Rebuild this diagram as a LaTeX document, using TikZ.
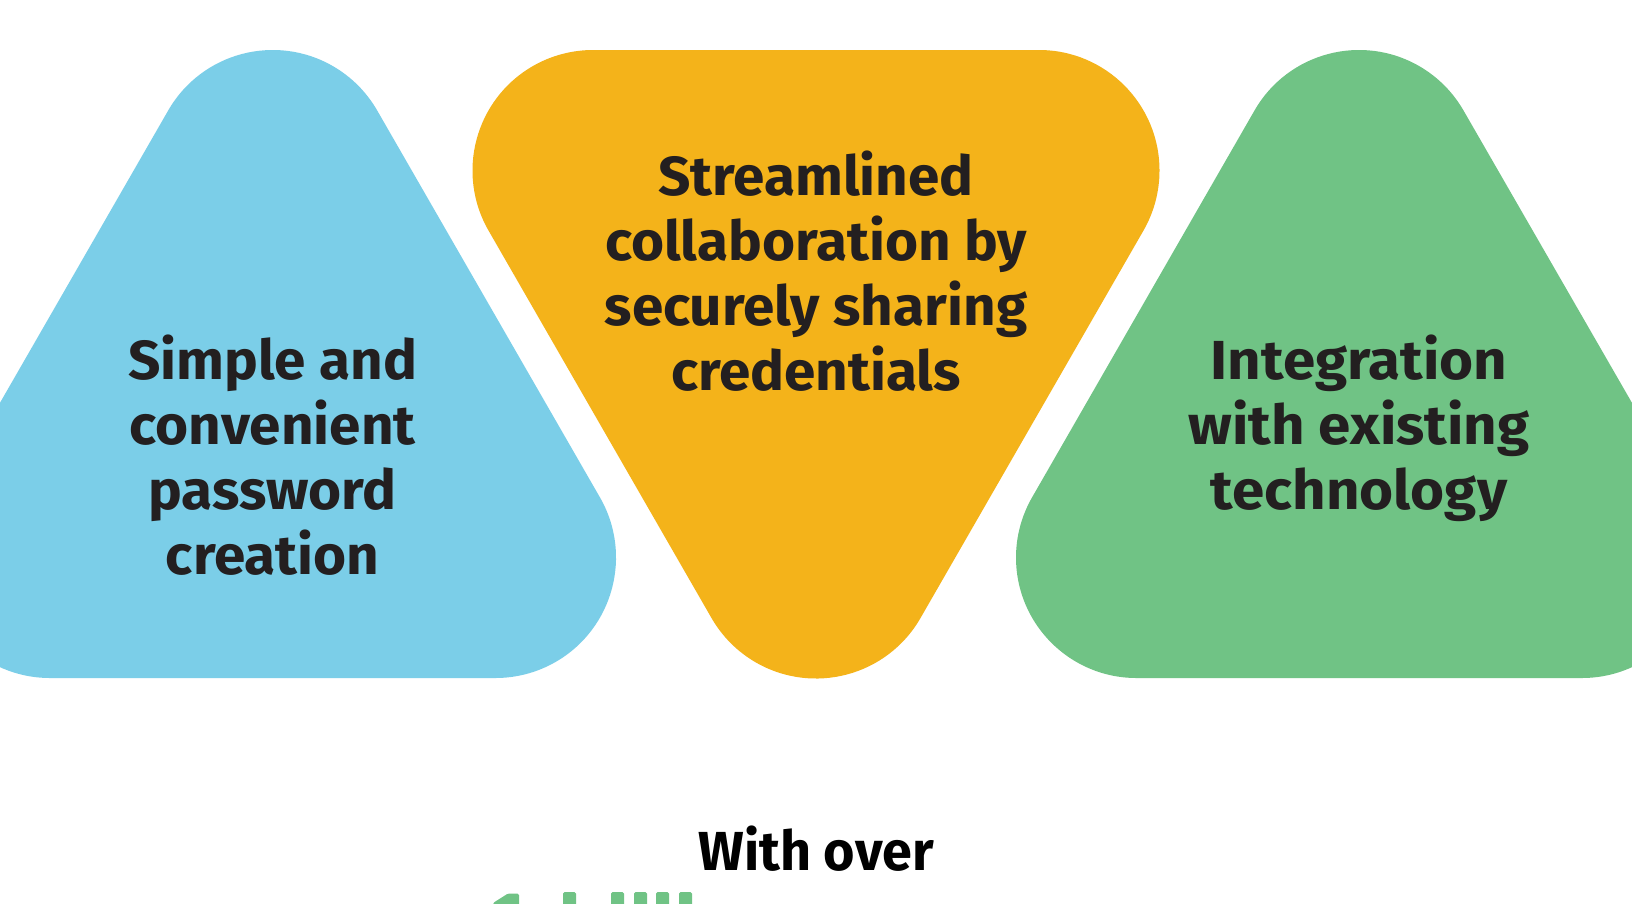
\documentclass[tikz,border=0pt]{standalone}
\usepackage{fontspec}
\newfontfamily\labfont[FakeStretch=1.03]{Fira Sans}
\newfontfamily\widelabfont[FakeStretch=1.06]{Fira Sans}
\newfontfamily\overfont[FakeStretch=0.98]{Fira Sans}
\definecolor{bluefill}{HTML}{7BCEE8}
\definecolor{orangefill}{HTML}{F4B31A}
\definecolor{greenfill}{HTML}{70C385}
\definecolor{labink}{HTML}{231F20}
\tikzset{
  lab/.style={align=center,font=\labfont\bfseries\fontsize{55}{65}\selectfont,text=labink,inner sep=0pt},
  widelab/.style={align=center,font=\widelabfont\bfseries\fontsize{55}{65}\selectfont,text=labink,inner sep=0pt},
  overlab/.style={align=center,font=\overfont\bfseries\fontsize{55}{65}\selectfont,text=black,inner sep=0pt},
  sliver/.style={fill=greenfill,rounded corners=1.5pt}
}
\begin{document}
\begin{tikzpicture}[x=1pt,y=-1pt]
\useasboundingbox (0,0) rectangle (1632,903);
\clip (0,0) rectangle (1632,903);
\fill[white] (0,0) rectangle (1632,903);
\fill[bluefill] (168.34,110.25) arc[start angle=150,end angle=30,radius=120.5pt]
  -- (599.86,497.25) arc[start angle=30,end angle=-90,radius=120.5pt]
  -- (50,678) arc[start angle=-90,end angle=-210,radius=120.5pt] -- cycle;
\fill[orangefill] (488.64,230.75) arc[start angle=210,end angle=90,radius=120.5pt]
  -- (1039,50) arc[start angle=90,end angle=-30,radius=120.5pt]
  -- (920.36,618.25) arc[start angle=-30,end angle=-150,radius=120.5pt] -- cycle;
\fill[greenfill] (1254.64,110.25) arc[start angle=150,end angle=30,radius=120.5pt]
  -- (1686.36,497.25) arc[start angle=30,end angle=-90,radius=120.5pt]
  -- (1136.5,678) arc[start angle=-90,end angle=-210,radius=120.5pt] -- cycle;
\node[lab] (a) at (272.7,455.5) {Simple and\\convenient\\password\\creation};
\node[lab] (b) at (816,271.5) {Streamlined\\collaboration by\\securely sharing\\credentials};
\node[widelab] (c) at (1359,428) {Integration\\with existing\\technology};
\node[overlab] (d) at (816,849) {With over};
\fill[sliver] (493,910) -- (493,903) -- (508,893.5) -- (519,893.5) -- (519,910) -- cycle;
\fill[sliver] (563,892) rectangle (576,910);
\fill[sliver] (611,892) rectangle (624,910);
\fill[sliver] (634,892) rectangle (647,910);
\fill[sliver] (656,892) rectangle (669,910);
\fill[sliver] (679,892) rectangle (692,910);
\end{tikzpicture}
\end{document}
